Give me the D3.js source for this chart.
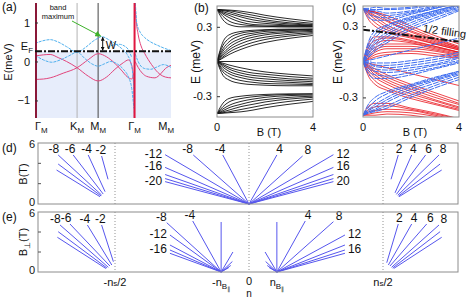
<!DOCTYPE html>
<html>
<head>
<meta charset="utf-8">
<script src="https://cdn.jsdelivr.net/npm/d3@7"></script>
<style>
  body { margin: 0; background: #fff; }
  text { font-family: "Liberation Sans", Arial, "DejaVu Sans", sans-serif; fill: #111; }
</style>
</head>
<body>
<svg id="fig" width="471" height="298"></svg>
<script>
// ---------------- data ----------------

// (a) bands along the path G-K-M-G-M, k is the path coordinate
var kTicks = [0, 1, 1.5, 2.366, 3.232];
var kNames = ["Γ", "K", "M", "Γ", "M"];
var fermiLevel = 0.26;
var bandMaximum = [1.585, 0.65];
var gammaLines = [0, 2.366];

var blueBands = [
  [[0,0.46],[0.15,0.52],[0.36,0.56],[0.55,0.5],[0.75,0.38],[1.0,0.24],[1.2,0.36],[1.38,0.52],[1.5,0.6],[1.58,0.64],[1.75,0.56],[1.9,0.46],[2.05,0.34],[2.2,0.16],[2.28,-0.05],[2.33,-0.4],[2.355,-1.0],[2.362,-1.45]],
  [[0,0.16],[0.2,0.04],[0.4,-0.02],[0.6,0.04],[0.8,0.14],[1.0,0.24],[1.2,0.06],[1.35,-0.06],[1.5,-0.12],[1.65,-0.06],[1.8,0.0],[1.95,-0.06],[2.1,-0.2],[2.22,-0.4],[2.3,-0.7],[2.35,-1.2]],
  [[1.72,0.36],[1.85,0.42],[2.0,0.44],[2.12,0.4],[2.22,0.3],[2.3,0.1]],
  [[2.385,1.5],[2.42,0.98],[2.5,0.75],[2.6,0.62],[2.75,0.5],[2.9,0.42],[3.05,0.35],[3.232,0.28]],
  [[2.38,0.2],[2.45,0.0],[2.6,-0.18],[2.75,-0.2],[2.9,-0.14],[3.05,-0.08],[3.232,-0.15]]
];
var pinkBands = [
  [[0,0.14],[0.2,0.17],[0.36,0.18],[0.55,0.1],[0.75,0.0],[1.0,-0.16],[1.27,-0.38],[1.5,-0.5],[1.7,-0.4],[1.9,-0.2],[2.1,-0.03],[2.22,0.04],[2.3,-0.1],[2.35,-0.6],[2.362,-1.45]],
  [[0,-0.46],[0.2,-0.45],[0.36,-0.42],[0.67,-0.3],[1.0,-0.16],[1.27,0.05],[1.5,0.2],[1.7,0.12],[1.9,-0.05],[2.05,-0.22],[2.2,-0.4],[2.3,-0.45],[2.35,-0.3]],
  [[2.375,1.5],[2.4,1.1],[2.45,0.7],[2.52,0.4],[2.61,0.2],[2.77,-0.08],[2.97,-0.33],[3.1,-0.4],[3.232,-0.42]],
  [[2.38,0.0],[2.45,-0.15],[2.55,-0.3],[2.65,-0.38],[2.85,-0.42],[3.0,-0.3],[3.1,-0.18],[3.232,-0.1]]
];

// (b) Landau levels, E (meV) at the fields in fieldB
var fieldB = [0, 0.25, 0.5, 1, 1.5, 2, 3, 4];
var levelsB = [
  [0.45,0.36,0.32,0.30,0.30,0.30,0.30,0.30],
  [0.45,0.39,0.35,0.32,0.31,0.305,0.30,0.30],
  [0.45,0.41,0.38,0.34,0.32,0.315,0.31,0.305],
  [0.45,0.42,0.40,0.36,0.34,0.33,0.315,0.31],
  [0.45,0.43,0.415,0.385,0.36,0.345,0.325,0.315],
  [0.45,0.44,0.43,0.40,0.38,0.36,0.335,0.32],
  [0.45,0.445,0.44,0.42,0.40,0.38,0.35,0.33],
  [0.45,0.447,0.445,0.435,0.42,0.40,0.37,0.345],
  [0,0.17,0.23,0.26,0.27,0.275,0.28,0.28],
  [0,0.14,0.20,0.245,0.26,0.27,0.275,0.28],
  [0,0.11,0.17,0.225,0.245,0.26,0.27,0.275],
  [0,0.09,0.145,0.20,0.23,0.245,0.26,0.27],
  [0,0.07,0.12,0.18,0.21,0.23,0.25,0.26],
  [0,0.055,0.10,0.155,0.19,0.21,0.235,0.25],
  [0,0.04,0.08,0.13,0.165,0.19,0.22,0.24],
  [0,0.03,0.06,0.105,0.14,0.165,0.20,0.225],
  [0,0,0,0,0,0,0,0],
  [0,-0.12,-0.16,-0.19,-0.20,-0.205,-0.21,-0.21],
  [0,-0.09,-0.13,-0.165,-0.18,-0.19,-0.195,-0.20],
  [0,-0.07,-0.105,-0.14,-0.16,-0.17,-0.18,-0.19],
  [0,-0.05,-0.085,-0.12,-0.14,-0.15,-0.165,-0.175],
  [0,-0.035,-0.065,-0.10,-0.12,-0.13,-0.15,-0.16],
  [0,-0.025,-0.05,-0.08,-0.10,-0.11,-0.13,-0.145],
  [0,-0.015,-0.03,-0.055,-0.075,-0.09,-0.11,-0.125],
  [-0.45,-0.36,-0.32,-0.30,-0.29,-0.285,-0.28,-0.28],
  [-0.45,-0.39,-0.35,-0.32,-0.305,-0.295,-0.285,-0.28],
  [-0.45,-0.41,-0.38,-0.345,-0.325,-0.31,-0.295,-0.29],
  [-0.45,-0.425,-0.40,-0.37,-0.345,-0.33,-0.31,-0.30],
  [-0.45,-0.435,-0.42,-0.39,-0.37,-0.35,-0.325,-0.31],
  [-0.45,-0.443,-0.435,-0.415,-0.395,-0.375,-0.345,-0.325],
  [-0.45,-0.447,-0.443,-0.435,-0.42,-0.40,-0.37,-0.345]
];

// (c) spin split levels, E (meV) at the fields in fieldC
var fieldC = [0, 0.25, 0.5, 1, 2, 3, 4];
var redLevels = [
  [0.45,0.35,0.30,0.25,0.20,0.15,0.10],
  [0.45,0.38,0.33,0.27,0.21,0.15,0.10],
  [0.45,0.40,0.36,0.29,0.22,0.16,0.11],
  [0.45,0.41,0.38,0.31,0.23,0.17,0.11],
  [0.45,0.42,0.39,0.34,0.25,0.18,0.12],
  [0.45,0.43,0.41,0.35,0.26,0.19,0.12],
  [0.45,0.43,0.42,0.37,0.28,0.20,0.13],
  [0.45,0.43,0.42,0.39,0.30,0.22,0.15],
  [0,0.16,0.21,0.21,0.18,0.13,0.08],
  [0,0.13,0.18,0.20,0.17,0.13,0.08],
  [0,0.10,0.15,0.18,0.16,0.12,0.08],
  [0,0.08,0.12,0.15,0.15,0.11,0.07],
  [0,0.06,0.10,0.13,0.13,0.10,0.06],
  [0,0.04,0.08,0.11,0.11,0.09,0.05],
  [0,0.03,0.06,0.08,0.09,0.07,0.04],
  [0,0.02,0.04,0.06,0.07,0.05,0.03],
  [0,-0.0125,-0.025,-0.05,-0.10,-0.15,-0.20],
  [0,-0.13,-0.19,-0.24,-0.31,-0.36,-0.41],
  [0,-0.10,-0.16,-0.22,-0.29,-0.35,-0.40],
  [0,-0.08,-0.13,-0.19,-0.27,-0.33,-0.39],
  [0,-0.06,-0.11,-0.17,-0.25,-0.32,-0.38],
  [0,-0.05,-0.09,-0.15,-0.23,-0.30,-0.36],
  [0,-0.04,-0.08,-0.13,-0.21,-0.28,-0.35],
  [0,-0.03,-0.06,-0.11,-0.19,-0.26,-0.33],
  [-0.45,-0.37,-0.35,-0.35,-0.39,-0.43,-0.48],
  [-0.45,-0.40,-0.38,-0.37,-0.40,-0.44,-0.48],
  [-0.45,-0.42,-0.41,-0.40,-0.41,-0.45,-0.49],
  [-0.45,-0.44,-0.43,-0.42,-0.43,-0.46,-0.50],
  [-0.45,-0.45,-0.45,-0.44,-0.45,-0.48,-0.51]
];
var blueLevels = [
  [0.45,0.37,0.35,0.35,0.40,0.45,0.50],
  [0.45,0.40,0.38,0.37,0.41,0.45,0.50],
  [0.45,0.42,0.41,0.39,0.42,0.46,0.51],
  [0.45,0.43,0.43,0.41,0.43,0.47,0.51],
  [0.45,0.44,0.44,0.44,0.45,0.48,0.52],
  [0.45,0.45,0.46,0.45,0.46,0.49,0.52],
  [0,0.18,0.26,0.31,0.38,0.43,0.48],
  [0,0.15,0.23,0.30,0.37,0.43,0.48],
  [0,0.12,0.20,0.28,0.36,0.42,0.48],
  [0,0.10,0.17,0.25,0.35,0.41,0.47],
  [0,0.08,0.15,0.23,0.33,0.40,0.46],
  [0,0.07,0.13,0.21,0.31,0.39,0.45],
  [0,0.05,0.11,0.18,0.29,0.37,0.44],
  [0,0.04,0.09,0.16,0.27,0.35,0.43],
  [0,0.0125,0.025,0.05,0.10,0.15,0.20],
  [0,-0.11,-0.14,-0.14,-0.11,-0.06,-0.01],
  [0,-0.08,-0.11,-0.12,-0.09,-0.05,0.00],
  [0,-0.06,-0.08,-0.09,-0.07,-0.03,0.01],
  [0,-0.04,-0.06,-0.07,-0.05,-0.02,0.03],
  [0,-0.02,-0.04,-0.05,-0.03,0.00,0.04],
  [0,-0.01,-0.03,-0.03,-0.01,0.02,0.06],
  [0,0.00,-0.01,-0.01,0.01,0.04,0.08],
  [-0.45,-0.35,-0.30,-0.25,-0.19,-0.13,-0.08],
  [-0.45,-0.38,-0.33,-0.27,-0.20,-0.14,-0.08],
  [-0.45,-0.40,-0.36,-0.30,-0.21,-0.15,-0.09],
  [-0.45,-0.41,-0.38,-0.32,-0.23,-0.16,-0.10],
  [-0.45,-0.42,-0.40,-0.34,-0.25,-0.18,-0.11],
  [-0.45,-0.43,-0.41,-0.37,-0.28,-0.20,-0.13],
  [-0.45,-0.43,-0.42,-0.39,-0.30,-0.22,-0.15]
];
var halfFilling = [[0, 0.27], [4, 0.17]];

// (d),(e) Wannier fans: [label, n0, B0, n1, B1], n in units of ns
var fanD = [
  ["-8",-0.55,0.88,-0.712,4.82], ["-6",-0.544,0.98,-0.656,4.82], ["-4",-0.537,1.21,-0.6,4.82],
  ["-2",-0.526,2.43,-0.55,4.72], ["",-0.552,0.79,-0.712,3.93], ["",-0.556,0.72,-0.718,3.34],
  ["-4",0,0,-0.098,4.82], ["-8",0,0,-0.208,4.82], ["-12",0,0,-0.313,4.85], ["-16",0,0,-0.313,3.6],
  ["",0,0,-0.313,2.9], ["",0,0,-0.313,2.5], ["-20",0,0,-0.313,2.2],
  ["4",0,0,0.104,4.82], ["8",0,0,0.2,4.72], ["12",0,0,0.315,4.85], ["16",0,0,0.315,3.6],
  ["",0,0,0.315,2.9], ["",0,0,0.315,2.5], ["20",0,0,0.315,2.2],
  ["2",0.53,2.43,0.557,4.82], ["4",0.545,1.1,0.607,4.82], ["6",0.55,0.95,0.659,4.82],
  ["8",0.555,0.85,0.709,4.82], ["",0.558,0.78,0.713,3.93], ["",0.56,0.72,0.719,3.34]
];
var fanE = [
  ["-8",-0.525,0.47,-0.705,4.7], ["-6",-0.519,0.6,-0.668,4.8], ["-4",-0.512,0.7,-0.603,4.7],
  ["-2",-0.506,1.03,-0.55,4.7], ["",-0.53,0.4,-0.712,4.03], ["",-0.534,0.35,-0.715,3.47],
  ["",-0.104,0,-0.104,5.0], ["-4",-0.104,0,-0.21,5.1], ["-8",-0.104,0,-0.307,4.93],
  ["-12",-0.104,0,-0.295,3.7], ["",-0.104,0,-0.295,2.7], ["-16",-0.104,0,-0.295,2.2], ["",-0.104,0,-0.295,1.87],
  ["",-0.104,0,-0.06,2.0], ["",-0.104,0,-0.062,1.05], ["",-0.104,0,-0.068,0.65], ["",-0.104,0,-0.075,0.45],
  ["",0.104,0,0.104,5.0], ["4",0.104,0,0.21,5.1], ["8",0.104,0,0.315,5.03],
  ["12",0.104,0,0.358,3.7], ["",0.104,0,0.358,2.7], ["16",0.104,0,0.358,2.2], ["",0.104,0,0.358,1.87],
  ["",0.104,0,0.06,2.0], ["",0.104,0,0.062,1.05], ["",0.104,0,0.068,0.65], ["",0.104,0,0.075,0.45],
  ["2",0.514,0.93,0.557,4.8], ["4",0.52,0.7,0.607,4.8], ["6",0.526,0.6,0.663,4.8],
  ["8",0.532,0.47,0.709,4.7], ["",0.536,0.4,0.713,4.03], ["",0.54,0.35,0.719,3.47]
];
var nGuides = [-0.5, 0, 0.5];

// ---------------- drawing ----------------
var svg = d3.select("#fig");
var defs = svg.append("defs");

function addClip(id, x, y, w, h) {
  defs.append("clipPath").attr("id", id).append("rect")
    .attr("x", x).attr("y", y).attr("width", w).attr("height", h);
}
function addMarker(id, color, size) {
  defs.append("marker").attr("id", id)
      .attr("viewBox", "0 0 10 10").attr("refX", 9).attr("refY", 5)
      .attr("markerWidth", size).attr("markerHeight", size)
      .attr("orient", "auto-start-reverse")
    .append("path").attr("d", "M0,0L10,5L0,10z").attr("fill", color);
}
addMarker("arrGreen", "#3db22a", 6);
addMarker("arrBlack", "#111", 4);

function label(x, y, txt, size, anchor) {
  return svg.append("text").attr("x", x).attr("y", y)
    .attr("text-anchor", anchor || "middle")
    .style("font-size", size + "px").text(txt);
}
function subLabel(x, y, main, sub, size, anchor) {
  var t = svg.append("text").attr("x", x).attr("y", y)
    .attr("text-anchor", anchor || "middle").style("font-size", size + "px");
  t.append("tspan").text(main);
  t.append("tspan").attr("dy", size * 0.3).style("font-size", (size * 0.72) + "px").text(sub);
  return t;
}
function vLabel(x, y, txt, size) {
  return svg.append("text").attr("transform", "translate(" + x + "," + y + ") rotate(-90)")
    .attr("text-anchor", "middle").style("font-size", size + "px").text(txt);
}

// ----- panel (a) -----
var xA = d3.scaleLinear().domain([0, 3.232]).range([35, 171]);
var yA = d3.scaleLinear().domain([-1.45, 1.5]).range([118, 3]);
addClip("clipA", 35, 3, 136, 115);
var gA = svg.append("g").attr("clip-path", "url(#clipA)");

// filled states below the Fermi level
gA.append("rect")
  .attr("x", xA(0)).attr("y", yA(fermiLevel))
  .attr("width", xA(3.232) - xA(0)).attr("height", yA(-1.45) - yA(fermiLevel))
  .attr("fill", "#e7edfb");

gA.append("line").attr("x1", xA(kTicks[1])).attr("x2", xA(kTicks[1]))
  .attr("y1", yA(1.5)).attr("y2", yA(-1.45)).attr("stroke", "#b4b4b4").attr("stroke-width", 1);
gA.append("line").attr("x1", xA(kTicks[2])).attr("x2", xA(kTicks[2]))
  .attr("y1", yA(1.5)).attr("y2", yA(-1.45)).attr("stroke", "#444").attr("stroke-width", 1);

var bandLine = d3.line().x(function(d) { return xA(d[0]); })
  .y(function(d) { return yA(d[1]); }).curve(d3.curveMonotoneX);

gA.selectAll(".pink").data(pinkBands).enter().append("path")
  .attr("d", bandLine).attr("fill", "none").attr("stroke", "#e2457c").attr("stroke-width", 1);
gA.selectAll(".blue").data(blueBands).enter().append("path")
  .attr("d", bandLine).attr("fill", "none").attr("stroke", "#4fb0ee")
  .attr("stroke-width", 1).attr("stroke-dasharray", "3,1");

gA.selectAll(".gam").data(gammaLines).enter().append("line")
  .attr("x1", function(d) { return xA(d) + (d === 0 ? 1 : 0); })
  .attr("x2", function(d) { return xA(d) + (d === 0 ? 1 : 0); })
  .attr("y1", yA(1.5)).attr("y2", yA(-1.45))
  .attr("stroke", function(d) { return d === 0 ? "#8a1838" : "#e0163f"; })
  .attr("stroke-width", 2);

gA.append("line").attr("x1", xA(0)).attr("x2", xA(3.232))
  .attr("y1", yA(fermiLevel)).attr("y2", yA(fermiLevel))
  .attr("stroke", "#111").attr("stroke-width", 2).attr("stroke-dasharray", "7,2,2,2");

// left axis
svg.append("g").attr("transform", "translate(35,0)")
  .call(d3.axisLeft(yA).tickValues([-1, 0, 1]).tickSize(-3).tickFormat(d3.format("d")))
  .call(function(g) {
    g.select(".domain").remove();
    g.selectAll("text").attr("x", -5).style("font-size", "11px")
      .style("font-family", "Liberation Sans, Arial, sans-serif");
    g.selectAll("line").attr("stroke", "#333");
  });

kTicks.forEach(function(k, i) {
  var anchor = i === 0 ? "start" : (i === kTicks.length - 1 ? "end" : "middle");
  var x = i === kTicks.length - 1 ? xA(k) + 3 : xA(k);
  subLabel(x, 130, kNames[i], "M", 11, anchor);
});

// band maximum and W annotation
label(58, 10, "band", 7.5);
label(58, 19, "maximum", 7.5);
svg.append("line").attr("x1", 72).attr("y1", 21)
  .attr("x2", xA(bandMaximum[0]) - 1).attr("y2", yA(bandMaximum[1]))
  .attr("stroke", "#3db22a").attr("stroke-width", 1).attr("marker-end", "url(#arrGreen)");
svg.append("line").attr("x1", xA(bandMaximum[0]) + 1).attr("x2", xA(bandMaximum[0]) + 1)
  .attr("y1", yA(bandMaximum[1]) + 1).attr("y2", yA(fermiLevel) - 1)
  .attr("stroke", "#111").attr("stroke-width", 1)
  .attr("marker-start", "url(#arrBlack)").attr("marker-end", "url(#arrBlack)");
label(xA(bandMaximum[0]) + 4, 49, "W", 11, "start");
subLabel(33, 50, "E", "F", 11, "end");
vLabel(12, 62, "E(meV)", 11);
label(2, 11, "(a)", 12, "start");

// ----- panel (b) -----
var xB = d3.scaleLinear().domain([0, 4]).range([217, 313]);
var yB = d3.scaleLinear().domain([-0.48, 0.48]).range([117, 6]);
addClip("clipB", 217, 6, 96, 111);
var gB = svg.append("g").attr("clip-path", "url(#clipB)");
var llLineB = d3.line().x(function(d, i) { return xB(fieldB[i]); })
  .y(function(d) { return yB(d); }).curve(d3.curveMonotoneX);
gB.selectAll(".ll").data(levelsB).enter().append("path")
  .attr("d", llLineB).attr("fill", "none").attr("stroke", "#111").attr("stroke-width", 0.9);

function frame(x, y, w, h) {
  svg.append("rect").attr("x", x).attr("y", y).attr("width", w).attr("height", h)
    .attr("fill", "none").attr("stroke", "#8c8c8c").attr("stroke-width", 1);
}
function eAxis(xs, ys, xPos) {
  svg.append("g").attr("transform", "translate(" + xPos + ",0)")
    .call(d3.axisLeft(ys).tickValues([-0.3, 0.3]).tickSize(-3).tickFormat(d3.format(".1f")))
    .call(function(g) {
      g.select(".domain").remove();
      g.selectAll("text").attr("x", -5).style("font-size", "11px")
        .style("font-family", "Liberation Sans, Arial, sans-serif").text(function(d) { return d < 0 ? "-0.3" : "0.3"; });
      g.selectAll("line").attr("stroke", "#333");
    });
  label(xs(0), 131, "0", 11);
  label(xs(4), 131, "4", 11);
  label((xs(0) + xs(4)) / 2 + 4, 136, "B (T)", 11);
}
frame(217, 6, 96, 111);
eAxis(xB, yB, 217);
vLabel(200, 62, "E (meV)", 12);
label(194, 12, "(b)", 12, "start");

// ----- panel (c) -----
var xC = d3.scaleLinear().domain([0, 4]).range([363, 459]);
var yC = d3.scaleLinear().domain([-0.465, 0.47]).range([117, 6]);
addClip("clipC", 363, 6, 96, 111);
var gC = svg.append("g").attr("clip-path", "url(#clipC)");
var llLineC = d3.line().x(function(d, i) { return xC(fieldC[i]); })
  .y(function(d) { return yC(d); }).curve(d3.curveMonotoneX);
gC.selectAll(".rl").data(redLevels).enter().append("path")
  .attr("d", llLineC).attr("fill", "none").attr("stroke", "#e8141c").attr("stroke-width", 0.8);
gC.selectAll(".bl").data(blueLevels).enter().append("path")
  .attr("d", llLineC).attr("fill", "none").attr("stroke", "#3d6cf0")
  .attr("stroke-width", 1).attr("stroke-dasharray", "6,1");
gC.append("line")
  .attr("x1", xC(halfFilling[0][0])).attr("y1", yC(halfFilling[0][1]))
  .attr("x2", xC(halfFilling[1][0])).attr("y2", yC(halfFilling[1][1]))
  .attr("stroke", "#111").attr("stroke-width", 2).attr("stroke-dasharray", "7,2,2,2");
svg.append("text").attr("transform", "translate(444,35) rotate(8)")
  .attr("text-anchor", "middle").style("font-size", "11px").text("1/2 filling");
frame(363, 6, 96, 111);
eAxis(xC, yC, 363);
vLabel(342, 62, "E (meV)", 12);
label(342, 12, "(c)", 12, "start");

// ----- panels (d) and (e) -----
var xN = d3.scaleLinear().domain([-0.5, 0.5]).range([115, 383]);

function fanPanel(fans, top, bottom, ys) {
  var g = svg.append("g");
  g.selectAll(".guide").data(nGuides).enter().append("line")
    .attr("x1", function(d) { return xN(d); }).attr("x2", function(d) { return xN(d); })
    .attr("y1", top).attr("y2", bottom)
    .attr("stroke", "#777").attr("stroke-width", 0.8).attr("stroke-dasharray", "1,2");
  g.selectAll(".fan").data(fans).enter().append("line")
    .attr("x1", function(d) { return xN(d[1]); }).attr("y1", function(d) { return ys(d[2]); })
    .attr("x2", function(d) { return xN(d[3]); }).attr("y2", function(d) { return ys(d[4]); })
    .attr("stroke", "#5656ee").attr("stroke-width", 1);
  // labels: steep lines get theirs above the end, shallow ones beside it
  fans.filter(function(d) { return d[0] !== ""; }).forEach(function(d) {
    var x0 = xN(d[1]), x1 = xN(d[3]), y1 = ys(d[4]);
    var steep = (d[4] - d[2]) / Math.abs(d[3] - d[1]) > 20;
    if (steep) {
      label(x1 + 0.1 * (x1 - x0), y1 - 2, d[0], 12);
    } else {
      var right = x1 > x0;
      label(x1 + (right ? 3 : -3), y1 + 3, d[0], 12, right ? "start" : "end");
    }
  });
  svg.append("rect").attr("x", 38).attr("y", top).attr("width", 420).attr("height", bottom - top)
    .attr("fill", "none").attr("stroke", "#8c8c8c").attr("stroke-width", 1);
  [2, 4].forEach(function(b) {
    svg.append("line").attr("x1", 38).attr("x2", 41).attr("y1", ys(b)).attr("y2", ys(b))
      .attr("stroke", "#555");
  });
  label(35, ys(6) + 5, "6", 11, "end");
  label(35, ys(0) + 2, "0", 11, "end");
}

var yD = d3.scaleLinear().domain([0, 6]).range([204, 143]);
fanPanel(fanD, 143, 204, yD);
vLabel(27, 174, "B(T)", 11);
label(2, 152, "(d)", 12, "start");

var yE = d3.scaleLinear().domain([0, 6]).range([272, 212]);
fanPanel(fanE, 212, 272, yE);
var bl = svg.append("text").attr("transform", "translate(27,242) rotate(-90)")
  .attr("text-anchor", "middle").style("font-size", "11px");
bl.append("tspan").text("B");
bl.append("tspan").attr("dy", 3).style("font-size", "8px").text("⊥");
bl.append("tspan").attr("dy", -3).text("(T)");
label(2, 221, "(e)", 12, "start");

// n axis labels
function nsLabel(x, neg) {
  var t = svg.append("text").attr("x", x).attr("y", 286).attr("text-anchor", "middle").style("font-size", "11px");
  t.append("tspan").text((neg ? "-" : "") + "n");
  t.append("tspan").style("font-size", "8px").text("s");
  t.append("tspan").text("/2");
}
function nbLabel(x, neg) {
  var t = svg.append("text").attr("x", x).attr("y", 286).attr("text-anchor", "middle").style("font-size", "11px");
  t.append("tspan").text((neg ? "-" : "") + "n");
  t.append("tspan").attr("dy", 3).style("font-size", "8px").text("B");
  t.append("tspan").attr("dy", 2).style("font-size", "6px").text("∥");
}
nsLabel(xN(-0.5), true);
nsLabel(xN(0.5), false);
nbLabel(xN(-0.104), true);
nbLabel(xN(0.104), false);
label(xN(0), 285, "0", 11);
label(xN(0), 297, "n", 10);
</script>
</body>
</html>
